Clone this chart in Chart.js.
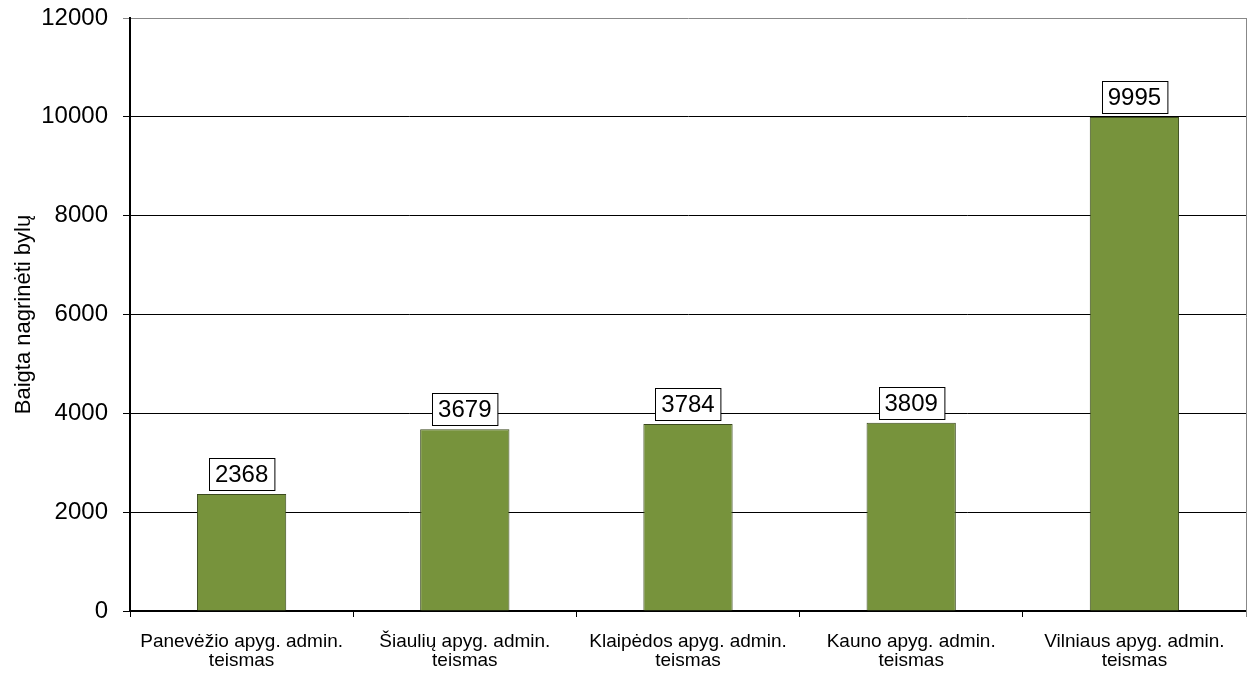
<!DOCTYPE html>
<html>
<head>
<meta charset="utf-8">
<script src="https://cdn.jsdelivr.net/npm/chart.js@4"></script>
<style>
  html, body { margin: 0; padding: 0; background: #fff; }
  #wrap { width: 1255px; height: 675px; }
</style>
</head>
<body>
<div id="wrap"><canvas id="grafico" width="1255" height="675"></canvas></div>
<script>
const teismai = [
  ["Panevėžio apyg. admin.", "teismas"],
  ["Šiaulių apyg. admin.", "teismas"],
  ["Klaipėdos apyg. admin.", "teismas"],
  ["Kauno apyg. admin.", "teismas"],
  ["Vilniaus apyg. admin.", "teismas"]
];
const baigtaBylu = [2368, 3679, 3784, 3809, 9995];
const yMin = 0;
const yMax = 12000;
const yStep = 2000;
const yPavadinimas = "Baigta nagrinėti bylų";

const sriftas = "'Liberation Sans', Arial, sans-serif";

// reikšmės virš stulpelių baltuose langeliuose
const reiksmiuEtiketes = {
  id: "reiksmiuEtiketes",
  afterDatasetsDraw(chart) {
    const ctx = chart.ctx;
    const meta = chart.getDatasetMeta(0);
    ctx.save();
    ctx.font = "24px " + sriftas;
    ctx.textAlign = "center";
    ctx.textBaseline = "middle";
    meta.data.forEach((bar, i) => {
      const tekstas = String(chart.data.datasets[0].data[i]);
      const plotis = ctx.measureText(tekstas).width + 12;
      const aukstis = 32;
      const x = Math.round(bar.x - plotis / 2) + 0.5;
      const y = Math.round(bar.y - 4 - aukstis) + 0.5;
      ctx.fillStyle = "#fff";
      ctx.fillRect(x, y, plotis, aukstis);
      ctx.strokeStyle = "#000";
      ctx.lineWidth = 1;
      ctx.strokeRect(x, y, plotis, aukstis);
      ctx.fillStyle = "#000";
      ctx.fillText(tekstas, bar.x, y + aukstis / 2 + 1);
    });
    ctx.restore();
  }
};

// pilkas dešinysis rėmelis
const remelis = {
  id: "remelis",
  beforeDatasetsDraw(chart) {
    const a = chart.chartArea;
    const ctx = chart.ctx;
    ctx.save();
    ctx.strokeStyle = "#888";
    ctx.lineWidth = 1;
    ctx.beginPath();
    ctx.moveTo(a.right + 0.5, a.top);
    ctx.lineTo(a.right + 0.5, a.bottom + 6);
    ctx.stroke();
    ctx.restore();
  }
};

new Chart(document.getElementById("grafico"), {
  type: "bar",
  data: {
    labels: teismai,
    datasets: [{
      label: yPavadinimas,
      data: baigtaBylu,
      backgroundColor: "#77933C",
      borderColor: "#3B4A1E",
      borderWidth: 1,
      barPercentage: 0.4,
      categoryPercentage: 1
    }]
  },
  options: {
    responsive: false,
    animation: false,
    layout: { padding: { top: 18, right: 9, left: 0, bottom: 0 } },
    plugins: {
      legend: { display: false },
      tooltip: { enabled: false }
    },
    scales: {
      x: {
        offset: true,
        afterFit(scale) { scale.height = 64; },
        border: { color: "#000", width: 2 },
        grid: {
          offset: true,
          drawOnChartArea: false,
          drawTicks: true,
          tickLength: 6,
          color: "#000"
        },
        ticks: {
          color: "#000",
          font: { family: sriftas, size: 19, lineHeight: 1.0 },
          padding: 15,
          maxRotation: 0,
          autoSkip: false
        }
      },
      y: {
        min: yMin,
        max: yMax,
        afterFit(scale) {
          scale.width = 130;
          scale.paddingTop = 0;
          scale.paddingBottom = 0;
        },
        border: { color: "#000", width: 2 },
        grid: {
          color: c => (c.tick && c.tick.value === yMax ? "#888" : "#000"),
          lineWidth: 1,
          tickLength: 7
        },
        ticks: {
          stepSize: yStep,
          color: "#000",
          font: { family: sriftas, size: 24 },
          padding: 15,
          callback: v => String(v)
        },
        title: {
          display: true,
          text: yPavadinimas,
          color: "#000",
          font: { family: sriftas, size: 22 },
          padding: { top: 11, bottom: 0 }
        }
      }
    }
  },
  plugins: [reiksmiuEtiketes, remelis]
});
</script>
</body>
</html>
